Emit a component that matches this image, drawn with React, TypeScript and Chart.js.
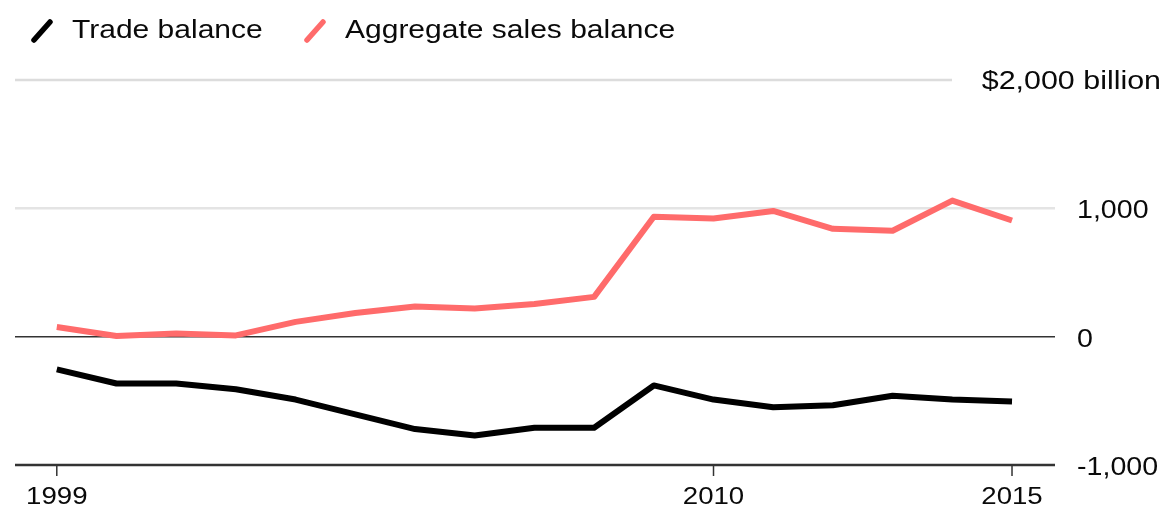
import React, { useEffect, useRef } from "react";
import { Chart, registerables } from "chart.js";

Chart.register(...registerables);

const years = [1999, 2000, 2001, 2002, 2003, 2004, 2005, 2006, 2007, 2008, 2009, 2010, 2011, 2012, 2013, 2014, 2015];
const tradeBalance = [-255, -365, -365, -410, -490, -605, -720, -770, -710, -710, -380, -490, -550, -535, -460, -490, -505];
const salesBalance = [75, 5, 25, 10, 115, 185, 235, 220, 255, 310, 935, 920, 980, 840, 825, 1060, 905];
const seriesNames = ["Trade balance", "Aggregate sales balance"];
const seriesColors = ["#000000", "#ff6b6b"];
const yTicks = [-1000, 0, 1000, 2000];
const yTickLabels = ["-1,000", "0", "1,000", "$2,000 billion"];
const xTicks = [1999, 2010, 2015];
const xTickLabels = ["1999", "2010", "2015"];

const FONT = '"Liberation Sans", Arial, sans-serif';

function stretchedText(ctx: CanvasRenderingContext2D, text: string, x: number, y: number, align: CanvasTextAlign, size: number, sx: number) {
  ctx.save();
  ctx.translate(x, y);
  ctx.scale(sx, 1);
  ctx.font = `${size}px ${FONT}`;
  ctx.textAlign = align;
  ctx.textBaseline = "alphabetic";
  ctx.fillStyle = "#0a0a0a";
  ctx.fillText(text, 0, 0);
  ctx.restore();
}

const decorPlugin = {
  id: "decor",
  beforeDatasetsDraw(chart: any) {
    const ctx: CanvasRenderingContext2D = chart.ctx;
    const xs = chart.scales.x;
    const ys = chart.scales.y;
    const left = chart.chartArea.left;
    const right = chart.chartArea.right;
    ctx.save();
    yTicks.forEach((v) => {
      const py = ys.getPixelForValue(v);
      ctx.beginPath();
      if (v === 2000) {
        ctx.strokeStyle = "#dcdcdc";
        ctx.lineWidth = 2.5;
        ctx.moveTo(left, py);
        ctx.lineTo(952, py);
      } else if (v === 1000) {
        ctx.strokeStyle = "#e4e4e4";
        ctx.lineWidth = 2.5;
        ctx.moveTo(left, py);
        ctx.lineTo(right, py);
      } else if (v === 0) {
        ctx.strokeStyle = "#333333";
        ctx.lineWidth = 1.5;
        ctx.moveTo(left, py);
        ctx.lineTo(right, py);
      } else {
        ctx.strokeStyle = "#333333";
        ctx.lineWidth = 2.5;
        ctx.moveTo(left, py);
        ctx.lineTo(right, py);
      }
      ctx.stroke();
    });
    const base = ys.getPixelForValue(-1000);
    xTicks.forEach((t) => {
      const px = xs.getPixelForValue(t);
      ctx.beginPath();
      ctx.strokeStyle = "#333333";
      ctx.lineWidth = 1.5;
      ctx.moveTo(px, base);
      ctx.lineTo(px, base + 11);
      ctx.stroke();
    });
    ctx.restore();
  },
  afterDraw(chart: any) {
    const ctx: CanvasRenderingContext2D = chart.ctx;
    const xs = chart.scales.x;
    const ys = chart.scales.y;
    yTicks.forEach((v, i) => {
      const py = ys.getPixelForValue(v);
      if (v === 2000) {
        stretchedText(ctx, yTickLabels[i], 1161, py + 9, "right", 26, 1.17);
      } else {
        stretchedText(ctx, yTickLabels[i], 1077, py + 10, "left", 26, 1.1);
      }
    });
    const base = ys.getPixelForValue(-1000);
    xTicks.forEach((t, i) => {
      stretchedText(ctx, xTickLabels[i], xs.getPixelForValue(t), base + 39, "center", 24, 1.15);
    });
    // legend
    const items = chart.data.datasets;
    const starts = [31, 304];
    items.forEach((ds: any, i: number) => {
      const x0 = starts[i];
      ctx.save();
      ctx.strokeStyle = ds.borderColor;
      ctx.lineWidth = 5.5;
      ctx.lineCap = "round";
      ctx.beginPath();
      ctx.moveTo(x0 + 3, 40);
      ctx.lineTo(x0 + 19, 22);
      ctx.stroke();
      ctx.restore();
      stretchedText(ctx, ds.label, x0 + 41, 38, "left", 25, 1.2);
    });
  },
};

export default function App() {
  const ref = useRef<HTMLCanvasElement | null>(null);
  useEffect(() => {
    document.body.style.margin = "0";
    if (!ref.current) return;
    const chart = new Chart(ref.current, {
      type: "line",
      data: {
        datasets: [
          {
            label: seriesNames[0],
            data: years.map((y, i) => ({ x: y, y: tradeBalance[i] })),
            borderColor: seriesColors[0],
            borderWidth: 6,
            pointRadius: 0,
            tension: 0,
            borderJoinStyle: "round",
          },
          {
            label: seriesNames[1],
            data: years.map((y, i) => ({ x: y, y: salesBalance[i] })),
            borderColor: seriesColors[1],
            borderWidth: 6,
            pointRadius: 0,
            tension: 0,
            borderJoinStyle: "round",
          },
        ],
      },
      options: {
        animation: false,
        responsive: false,
        layout: { padding: { left: 15, right: 109, top: 80, bottom: 41 } },
        scales: {
          x: { type: "linear", min: 1998.3, max: 2015.72, display: false },
          y: { type: "linear", min: -1000, max: 2000, display: false },
        },
        plugins: { legend: { display: false }, tooltip: { enabled: false } },
        clip: false as any,
      },
      plugins: [decorPlugin],
    });
    return () => chart.destroy();
  }, []);
  return (
    <div style={{ width: 1164, height: 506, background: "#fff" }}>
      <canvas ref={ref} width={1164} height={506} style={{ display: "block" }} />
    </div>
  );
}
